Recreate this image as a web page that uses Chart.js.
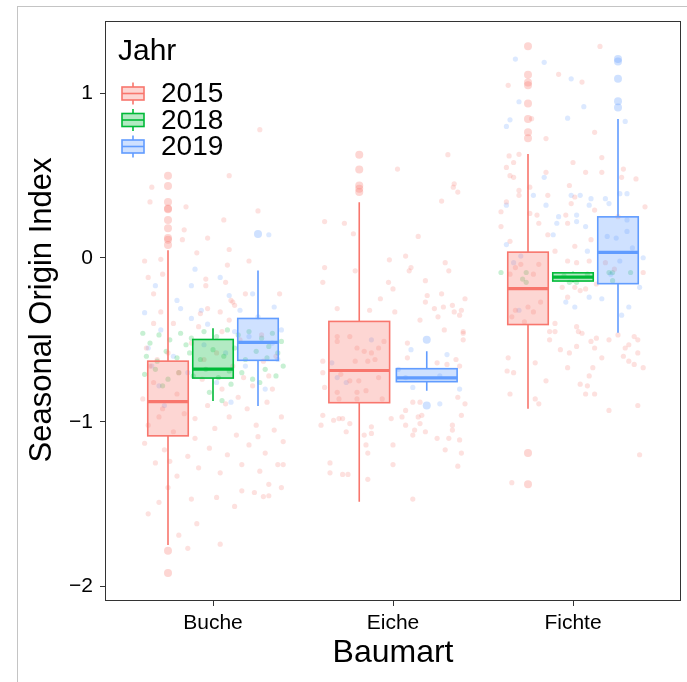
<!DOCTYPE html>
<html>
<head>
<meta charset="utf-8">
<script src="https://cdn.jsdelivr.net/npm/chart.js@4.4.1/dist/chart.umd.min.js"></script>
<style>
  html, body { margin: 0; padding: 0; background: #fff; }
  #wrap { position: relative; width: 687px; height: 682px; overflow: hidden; }
  #frame { position: absolute; left: 17px; top: 6px; width: 700px; height: 700px;
           border-left: 1px solid #c4c4c4; border-top: 1px solid #c4c4c4; }
  canvas { position: absolute; left: 0; top: 0; }
</style>
</head>
<body>
<div id="wrap"><div id="frame"></div><canvas id="chart" width="687" height="682"></canvas></div>
<script>
// categories / groups
const categories = ["Buche", "Eiche", "Fichte"];
const years = ["2015", "2018", "2019"];
const yTicks = [-2, -1, 0, 1];

// box stats per category: [lower whisker, Q1, median, Q3, upper whisker] (null = no data)
const box2015 = [[-1.75, -1.085, -0.877, -0.63, 0.045], [-1.487, -0.883, -0.687, -0.388, 0.338], [-0.92, -0.407, -0.188, 0.034, 0.632]];
const box2018 = [[-0.873, -0.733, -0.678, -0.498, -0.43], null, [-0.15, -0.142, -0.118, -0.092, -0.085]];
const box2019 = [[-0.903, -0.625, -0.516, -0.37, -0.078], [-0.81, -0.755, -0.732, -0.676, -0.57], [-0.457, -0.158, 0.033, 0.249, 0.845]];

// outliers per category
const out2015 = [[0.50, 0.437, 0.34, 0.30, 0.295, 0.23, 0.18, 0.12, 0.11, 0.078, -1.785, -1.92], [0.627, 0.537, 0.44, 0.42, 0.40], [1.288, 1.115, 1.068, 1.05, 0.94, 0.845, 0.765, 0.728, -1.19, -1.38]];
const out2018 = [[], [], []];
const out2019 = [[0.145], [-0.50, -0.90], [1.21, 1.195, 1.09, 0.953, 0.915]];

// jittered raw values: [offset from category centre, value]
const buche2015 = [[-0.34,0.43],[-0.35,0.34],[-0.15,0.31],[0.09,0.50],[0.06,0.23],[-0.16,0.17],[-0.03,0.12],[-0.17,0.11],[-0.09,0.03],[0.09,0.05],[0.25,0.285],[0.26,0.78],[-0.38,-0.02],[-0.29,-0.01],[0.08,-0.045],[-0.36,-0.12],[-0.28,-0.10],[-0.33,-0.22],[-0.04,-0.13],[-0.04,-0.17],[0.07,-0.15],[0.20,-0.02],[0.18,-0.22],[0.37,-0.22],[0.11,-0.27],[0.10,-0.26],[0.12,-0.29],[0.04,-0.33],[-0.03,-0.31],[-0.29,-0.33],[-0.07,-0.34],[-0.33,-0.40],[-0.22,-0.40],[-0.08,-0.42],[0.05,-0.45],[0.09,-0.38],
  [-0.37,-0.55],[-0.31,-0.62],[-0.25,-0.58],[-0.12,-0.52],[0.02,-0.58],[0.15,-0.50],[0.27,-0.47],[0.35,-0.60],[0.31,-0.72],[0.22,-0.78],[0.14,-0.85],[0.05,-0.80],[-0.06,-0.74],[-0.19,-0.70],[-0.33,-0.76],[-0.39,-0.86],[-0.28,-0.92],[-0.16,-0.95],[-0.03,-0.90],[0.09,-0.97],[0.19,-0.92],[0.30,-0.88],[0.38,-0.97],[0.34,-1.05],[0.24,-1.02],[0.13,-1.08],[0.01,-1.04],[-0.10,-1.10],[-0.22,-1.06],[-0.36,-1.02],[-0.38,-1.13],[-0.27,-1.17],[-0.14,-1.21],[-0.02,-1.16],[0.08,-1.20],[0.20,-1.14],[0.29,-1.19],[0.39,-1.12],[0.36,-1.26],[0.26,-1.30],[0.16,-1.26],[0.04,-1.31],[-0.08,-1.28],[-0.20,-1.33],[-0.32,-1.25],[-0.35,-0.66],[-0.20,-0.83],[0.11,-0.66],[0.28,-0.63],[-0.10,-0.98],[0.25,-1.09],[-0.30,-0.97],[0.17,-0.73],[-0.05,-0.62],[0.33,-0.80],[-0.24,-1.24],[0.07,-0.89],
  [-0.36,-1.56],[-0.09,-1.62],[-0.19,-1.69],[-0.14,-1.77],[0.04,-1.745],[-0.30,-1.49],[0.12,-1.515],[0.23,-1.43],[0.28,-1.455],[0.31,-1.45],[0.38,-1.40],[0.39,-1.26],[0.02,-1.46],[0.16,-1.42],[0.31,-1.38],[-0.25,-1.40],[-0.12,-1.47]];
const eiche2015 = [[0.305,0.628],[0.335,0.43],[0.34,0.45],[0.36,0.40],[0.27,0.345],[0.025,0.54],[-0.38,0.22],[-0.27,0.21],[-0.22,0.146],[0.14,0.13],[0.07,0.01],[-0.02,-0.013],[0.10,-0.06],[0.09,-0.08],[-0.025,-0.15],[0.0,-0.19],[-0.07,-0.25],[-0.38,-0.06],[-0.39,-0.15],[-0.21,-0.08],[0.01,-0.33],[-0.13,-0.32],[-0.31,-0.31],[0.18,-0.14],[0.19,-0.23],[0.18,-0.27],[0.27,-0.22],[0.33,-0.29],[0.40,-0.25],[0.29,-0.03],[0.31,-0.08],[0.23,-0.31],[0.25,-0.36],[0.28,-0.30],[0.34,-0.33],[0.38,-0.32],[0.37,-0.35],[0.15,-0.38],[0.39,-0.46],
  [0.285,-0.44],[0.39,-0.45],[0.39,-0.50],[0.08,-0.52],[0.08,-0.61],[0.245,-0.64],[0.30,-0.65],[0.35,-0.62],[0.37,-0.66],[-0.39,-0.63],[-0.39,-0.70],[-0.38,-0.79],[-0.39,-0.96],[-0.40,-1.02],[-0.33,-0.99],[-0.30,-0.98],[-0.28,-0.98],[-0.24,-1.01],[-0.26,-1.06],[-0.12,-1.03],[-0.16,-1.08],[-0.12,-1.07],[-0.15,-1.14],[-0.14,-1.19],[0.0,-1.14],[0.0,-1.26],[-0.35,-1.25],[-0.35,-1.31],[-0.28,-1.32],[-0.25,-1.32],[-0.14,-1.35],[-0.01,-0.98],[0.05,-0.97],[0.07,-0.93],[0.07,-1.02],[0.12,-1.05],[0.11,-1.08],[0.15,-1.01],[0.18,-1.06],[0.16,-0.96],[0.14,-0.97],[0.11,-0.88],[0.15,-0.88],[0.245,-1.10],[0.31,-1.10],[0.29,-1.17],[0.33,-1.05],[0.33,-1.02],[0.37,-1.11],[0.38,-1.19],[0.36,-1.27],[0.38,-0.96],[0.36,-0.85],[0.40,-0.89],[0.11,-1.47],
  [-0.31,-0.48],[-0.31,-0.51],[-0.24,-0.48],[-0.20,-0.55],[-0.16,-0.57],[-0.12,-0.58],[-0.08,-0.55],[-0.05,-0.51],[-0.10,-0.62],[-0.14,-0.63],[-0.21,-0.63],[-0.29,-0.71],[-0.19,-0.75],[-0.08,-0.73],[-0.31,-0.82],[-0.20,-0.82],[-0.15,-0.81],[-0.30,-0.86],[-0.06,-0.86],[-0.20,-0.86],[-0.24,-0.75]];
const fichte2015 = [[0.15,1.287],[-0.08,1.117],[0.05,1.07],[-0.36,1.05],[-0.23,0.847],[0.12,0.764],[-0.15,0.726],[-0.355,0.62],[-0.30,0.63],[0.16,0.61],[-0.33,0.58],[-0.37,0.55],[0.0,0.58],[-0.35,0.50],[-0.33,0.49],[-0.15,0.52],[0.07,0.52],[0.16,0.52],[0.28,0.54],[0.27,0.49],[0.35,0.48],[-0.02,0.44],[-0.24,0.43],[-0.30,0.41],[-0.14,0.38],[-0.30,0.38],[-0.37,0.34],[-0.20,0.26],[-0.04,0.26],[-0.01,0.33],[0.01,0.37],[0.40,0.31],[-0.40,0.28],[-0.24,0.27],[0.12,0.29],[0.25,0.25],
  [-0.40,0.19],[-0.35,0.10],[-0.14,0.14],[-0.10,0.04],[-0.03,-0.02],[0.02,-0.03],[0.09,-0.02],[0.01,0.07],[0.10,0.11],[-0.19,0.21],[-0.03,0.21],[0.18,-0.03],[0.23,-0.07],[0.39,-0.09],[-0.06,-0.18],[-0.03,-0.24],[0.01,-0.18],[0.04,-0.20],[0.07,-0.19],[0.13,-0.16],[-0.10,-0.40],[-0.13,-0.45],[-0.10,-0.45],[-0.13,-0.50],[-0.07,-0.56],[-0.02,-0.58],[0.02,-0.54],[0.03,-0.45],[0.02,-0.42],[0.05,-0.46],[0.10,-0.51],[0.13,-0.49],[0.12,-0.55],[0.16,-0.61],[0.20,-0.50],[0.25,-0.47],[0.29,-0.55],[0.31,-0.53],[0.34,-0.48],[0.36,-0.50],[0.36,-0.58],[0.28,-0.60],[0.31,-0.63],[0.34,-0.65],[0.39,-0.67],[0.11,-0.67],[0.09,-0.72],[0.04,-0.77],[0.08,-0.78],[0.07,-0.83],[0.12,-0.83],[-0.03,-0.67],[-0.21,-0.64],[-0.15,-0.75],[-0.36,-0.61],[-0.366,-0.69],[-0.33,-0.70],[-0.35,-0.83],[-0.21,-0.86],[-0.19,-0.89],[0.20,-0.93],[0.36,-0.90],[0.37,-1.20],[-0.34,-1.37],
  [-0.32,-0.06],[-0.35,-0.10],[-0.29,-0.04],[-0.19,-0.04],[-0.22,-0.10],[-0.32,-0.32],[-0.25,-0.30],[-0.22,-0.33],[-0.18,-0.27],[-0.34,-0.36],[-0.27,-0.39]];
const buche2018 = [[-0.39,-0.46],[-0.35,-0.52],[-0.30,-0.47],[-0.24,-0.50],[-0.18,-0.46],[-0.12,-0.49],[-0.05,-0.45],[0.02,-0.48],[0.08,-0.44],[0.14,-0.47],[0.20,-0.45],[0.27,-0.49],[0.33,-0.46],[0.38,-0.51],[-0.37,-0.60],[-0.31,-0.63],[-0.26,-0.57],[-0.20,-0.61],[-0.13,-0.58],[-0.07,-0.62],[0.00,-0.56],[0.06,-0.60],[0.12,-0.55],[0.18,-0.62],[0.24,-0.57],[0.30,-0.61],[0.36,-0.58],[-0.38,-0.71],[-0.32,-0.68],[-0.25,-0.74],[-0.19,-0.70],[-0.11,-0.72],[-0.04,-0.68],[0.03,-0.73],[0.09,-0.69],[0.16,-0.70],[0.22,-0.74],[0.29,-0.68],[0.35,-0.72],[0.39,-0.66],[-0.28,-0.78],[0.10,-0.77],[0.26,-0.76],[-0.15,-0.53],[0.31,-0.54],[-0.02,-0.82],[0.05,-0.87]];
const fichte2018 = [[-0.40,-0.09],[-0.26,-0.09],[-0.28,-0.13],[-0.26,-0.15],[0.20,-0.09],[0.22,-0.09],[0.32,-0.09],[0.22,-0.14],[-0.02,-0.15],[0.02,-0.15],[-0.05,-0.11],[0.08,-0.10]];
const buche2019 = [[-0.10,-0.07],[-0.32,-0.17],[-0.12,-0.17],[-0.38,-0.335],[-0.18,-0.31],[-0.065,-0.32],[0.09,-0.23],[0.31,0.14],[-0.03,-0.405],[-0.12,-0.37],[-0.29,-0.44],[0.22,-0.22],[0.15,-0.32],[0.38,-0.44],[-0.36,-0.55],[-0.22,-0.60],[-0.05,-0.53],[0.07,-0.58],[0.20,-0.48],[0.33,-0.52],[-0.30,-0.78],[-0.14,-0.70],[0.02,-0.76],[0.18,-0.66],[0.29,-0.80],[0.36,-0.62],[-0.27,-0.90],[0.10,-0.88],[0.25,-0.36],[-0.20,-0.26],[0.04,-0.12],[0.34,-0.30],[-0.34,-0.66],[0.12,-0.45]];
const eiche2019 = [[-0.12,-0.50],[0.10,-0.56],[0.30,-0.59],[-0.34,-0.64],[-0.31,-0.73],[-0.26,-0.76],[0.11,-0.79],[0.37,-0.80],[0.26,-0.89],[0.03,-0.68],[0.07,-0.73],[0.26,-0.72]];
const fichte2019 = [[-0.32,1.21],[-0.16,1.19],[-0.01,1.09],[-0.30,0.95],[0.06,0.92],[-0.35,0.84],[-0.37,0.80],[-0.03,0.85],[0.29,0.83],[-0.16,0.49],[-0.22,0.38],[-0.37,0.32],[-0.15,0.32],[-0.01,0.38],[0.04,0.38],[0.10,0.36],[0.18,0.36],[0.26,0.39],[0.30,0.39],[0.20,0.33],[-0.08,0.25],[0.02,0.26],[0.09,0.32],
  [-0.37,0.08],[-0.33,-0.03],[-0.30,-0.32],[-0.29,0.01],[0.09,-0.24],[0.01,-0.30],[-0.04,-0.27],[0.16,-0.25],[0.08,0.04],[-0.09,0.21],[-0.11,0.14],[0.02,0.22],[0.07,0.19],[0.39,0.0],[0.37,-0.18],[0.31,-0.30],[0.27,-0.35],[0.19,0.13],[0.24,0.12],[0.30,0.16],[0.33,0.06],[0.26,-0.02],[0.21,-0.10],[0.30,0.23]];

const jitter2015 = [buche2015, eiche2015, fichte2015];
const jitter2018 = [buche2018, [], fichte2018];
const jitter2019 = [buche2019, eiche2019, fichte2019];

const boxes = [box2015, box2018, box2019];
const outliers = [out2015, out2018, out2019];
const jitters = [jitter2015, jitter2018, jitter2019];
const colors = ["#F8766D", "#00BA38", "#619CFF"];
const rgb = [[248, 118, 109], [0, 186, 56], [97, 156, 255]];
const FONT = "'Liberation Sans', Arial, sans-serif";

// dodge position like ggplot (width 0.75, padding 0.1)
function dodge(catIdx, yearIdx) {
  const present = boxes.map((b, i) => b[catIdx] ? i : -1).filter(i => i >= 0);
  const n = present.length;
  const slot = 0.75 / n;
  const k = present.indexOf(yearIdx);
  return { offset: -0.375 + slot * (k + 0.5), half: slot * 0.9 / 2 };
}

const datasets = [];
// jittered points
jitters.forEach((perCat, yi) => {
  const data = [];
  perCat.forEach((pts, ci) => pts.forEach(p => data.push({ x: ci + 1 + p[0], y: p[1] })));
  datasets.push({
    data, pointRadius: 2.6, pointBorderWidth: 0,
    pointBackgroundColor: `rgba(${rgb[yi].join(",")},0.22)`
  });
});
// outliers at dodged box position
outliers.forEach((perCat, yi) => {
  const data = [];
  perCat.forEach((vals, ci) => {
    if (!boxes[yi][ci]) return;
    const d = dodge(ci, yi);
    vals.forEach(v => data.push({ x: ci + 1 + d.offset, y: v }));
  });
  datasets.push({
    data, pointRadius: 4, pointBorderWidth: 0,
    pointBackgroundColor: `rgba(${rgb[yi].join(",")},0.3)`
  });
});

const boxPlugin = {
  id: "boxes",
  afterDatasetsDraw(chart) {
    const { ctx, scales: { x, y }, chartArea } = chart;
    ctx.save();
    boxes.forEach((perCat, yi) => {
      perCat.forEach((st, ci) => {
        if (!st) return;
        const d = dodge(ci, yi);
        const c = ci + 1 + d.offset;
        const l = x.getPixelForValue(c - d.half), r = x.getPixelForValue(c + d.half), m = x.getPixelForValue(c);
        const [lo, q1, med, q3, hi] = st.map(v => y.getPixelForValue(v));
        ctx.strokeStyle = colors[yi];
        ctx.lineWidth = 1.6;
        ctx.beginPath();
        ctx.moveTo(m, hi); ctx.lineTo(m, q3);
        ctx.moveTo(m, q1); ctx.lineTo(m, lo);
        ctx.stroke();
        ctx.fillStyle = `rgba(${rgb[yi].join(",")},0.3)`;
        ctx.fillRect(l, q3, r - l, q1 - q3);
        ctx.strokeRect(l, q3, r - l, q1 - q3);
        ctx.lineWidth = 3.2;
        ctx.beginPath();
        ctx.moveTo(l, med); ctx.lineTo(r, med);
        ctx.stroke();
      });
    });
    // panel border
    ctx.strokeStyle = "#333";
    ctx.lineWidth = 1;
    ctx.strokeRect(chartArea.left + 0.5, chartArea.top + 0.5, chartArea.right - chartArea.left - 1, chartArea.bottom - chartArea.top - 1);
    ctx.restore();
  },
  afterDraw(chart) {
    const { ctx, chartArea } = chart;
    ctx.save();
    ctx.fillStyle = "#000";
    // axis titles
    ctx.font = `32px ${FONT}`;
    ctx.textAlign = "center";
    ctx.textBaseline = "middle";
    ctx.fillText("Baumart", (chartArea.left + chartArea.right) / 2, 653);
    ctx.font = `31px ${FONT}`;
    ctx.translate(42, 310);
    ctx.rotate(-Math.PI / 2);
    ctx.fillText("Seasonal Origin Index", 0, 0);
    ctx.restore();
    // legend
    ctx.save();
    ctx.fillStyle = "#000";
    ctx.textAlign = "left";
    ctx.textBaseline = "middle";
    ctx.font = `30px ${FONT}`;
    ctx.fillText("Jahr", 118, 52);
    ctx.font = `28px ${FONT}`;
    years.forEach((yr, i) => {
      const cy = 93.5 + i * 26.5, lx = 122;
      ctx.strokeStyle = colors[i];
      ctx.lineWidth = 1.6;
      ctx.beginPath();
      ctx.moveTo(lx + 11, cy - 11); ctx.lineTo(lx + 11, cy + 11);
      ctx.stroke();
      ctx.fillStyle = "#fff";
      ctx.fillRect(lx, cy - 6.5, 22, 13);
      ctx.fillStyle = `rgba(${rgb[i].join(",")},0.3)`;
      ctx.fillRect(lx, cy - 6.5, 22, 13);
      ctx.strokeRect(lx, cy - 6.5, 22, 13);
      ctx.beginPath();
      ctx.moveTo(lx, cy); ctx.lineTo(lx + 22, cy);
      ctx.stroke();
      ctx.fillStyle = "#000";
      ctx.fillText(yr, 161, cy + 1);
    });
    ctx.restore();
  }
};

new Chart(document.getElementById("chart").getContext("2d"), {
  type: "scatter",
  data: { datasets },
  options: {
    responsive: false,
    animation: false,
    devicePixelRatio: 1,
    layout: { padding: { top: 21, right: 6, left: 0, bottom: 0 } },
    plugins: { legend: { display: false }, tooltip: { enabled: false } },
    scales: {
      x: {
        type: "linear", min: 0.4, max: 3.6,
        afterBuildTicks: s => { s.ticks = categories.map((c, i) => ({ value: i + 1 })); },
        afterFit: s => { s.height = 81; },
        ticks: { callback: v => categories[v - 1], color: "#000", font: { family: FONT, size: 21 }, padding: 5, maxRotation: 0 },
        grid: { drawOnChartArea: false, drawTicks: true, tickLength: 5, color: "#333" },
        border: { display: false }
      },
      y: {
        type: "linear", min: -2.091, max: 1.442,
        afterBuildTicks: s => { s.ticks = yTicks.map(v => ({ value: v })); },
        afterFit: s => { s.width = 105; },
        ticks: { callback: v => v < 0 ? "\u2212" + Math.abs(v) : String(v), color: "#000", font: { family: FONT, size: 21 }, padding: 7 },
        grid: { drawOnChartArea: false, drawTicks: true, tickLength: 5, color: "#333" },
        border: { display: false }
      }
    }
  },
  plugins: [boxPlugin]
});
</script>
</body>
</html>
